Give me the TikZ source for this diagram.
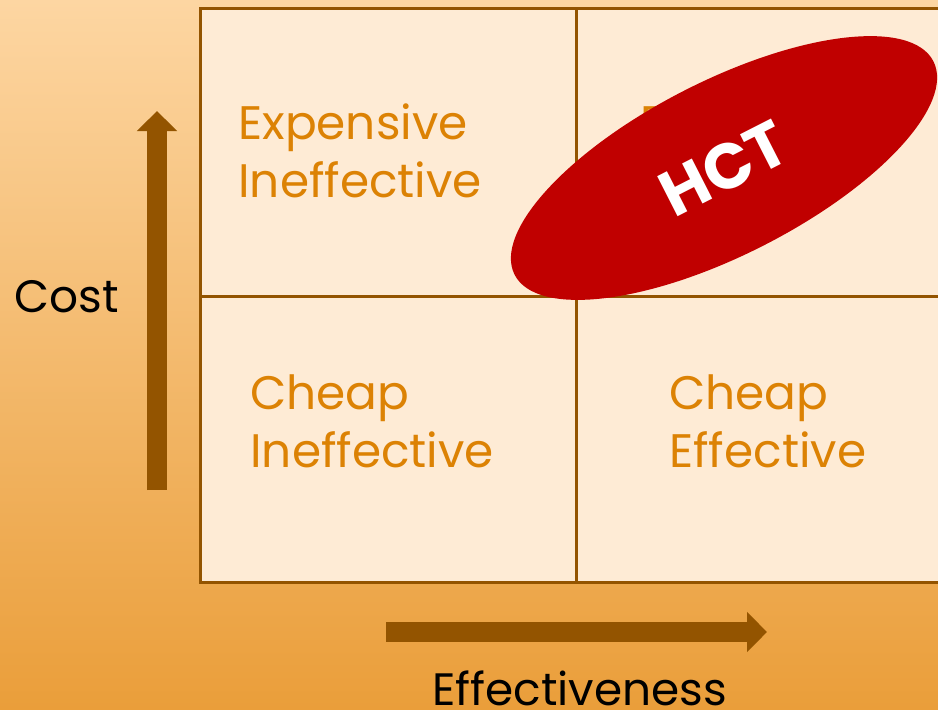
\documentclass[tikz,border=0pt]{standalone}
\usepackage{fontspec}
\setmainfont{Poppins}
\usetikzlibrary{arrows.meta,shapes.geometric}
\definecolor{bgtop}{RGB}{253,214,162}
\definecolor{bgbot}{RGB}{234,158,58}
\definecolor{cellfill}{RGB}{254,235,213}
\definecolor{axisbrown}{RGB}{147,84,0}
\definecolor{quadtext}{RGB}{220,130,4}
\definecolor{hctred}{RGB}{192,0,0}
\def\quadfont{\fontsize{23.5}{29}\selectfont}
\def\axisfont{\fontsize{22.7}{28}\selectfont}

\begin{document}
\begin{tikzpicture}[x=0.5pt,y=-0.5pt,
    cell/.style={draw=axisbrown,line width=1.5pt,fill=cellfill,anchor=north west,inner sep=0pt,outer sep=0pt,minimum width=188pt},
    quad/.style={anchor=base west,align=left,inner sep=0pt,text=quadtext,font=\quadfont},
    axis/.style={axisbrown,line width=10pt,-{Triangle[length=10pt,width=19.5pt]}},
    axislabel/.style={anchor=base west,inner sep=0pt,font=\axisfont}]

    \clip (0,0) rectangle (938,709);
    \shade[top color=bgtop,bottom color=bgbot] (0,0) rectangle (938,709);

    % quadrants, the right column runs off the page
    \node[cell,minimum height=144pt] (expineff) at (200,8) {};
    \node[cell,minimum height=144pt] (expeff) at (576,8) {};
    \node[cell,minimum height=143pt] (chpineff) at (200,296) {};
    \node[cell,minimum height=143pt] (chpeff) at (576,296) {};

    % base of a two line label is its second line
    \node[quad] (expineffl) at (238,197) {Expensive\\Ineffective};
    \node[quad] (expeffl) at (640,197) {Expensive\\Effective};
    \node[quad] (chpineffl) at (250,467) {Cheap\\Ineffective};
    \node[quad] (chpeffl) at (669,467) {Cheap\\Effective};

    % axes
    \coordinate (costlow) at (157,490);
    \coordinate (costhigh) at (157,111);
    \draw[axis] (costlow) -- (costhigh);
    \coordinate (efflow) at (386,632);
    \coordinate (effhigh) at (767,632);
    \draw[axis] (efflow) -- (effhigh);
    \node[axislabel] (cost) at (14,312) {Cost};
    \node[axislabel] (effect) at (432,705) {Effectiveness};

    \node[shape=ellipse,fill=hctred,minimum width=235pt,minimum height=87pt,inner sep=0pt,rotate=27,
        text=white,font=\fontsize{32}{38}\bfseries] (hct) at (724,168) {HCT};

\end{tikzpicture}
\end{document}
